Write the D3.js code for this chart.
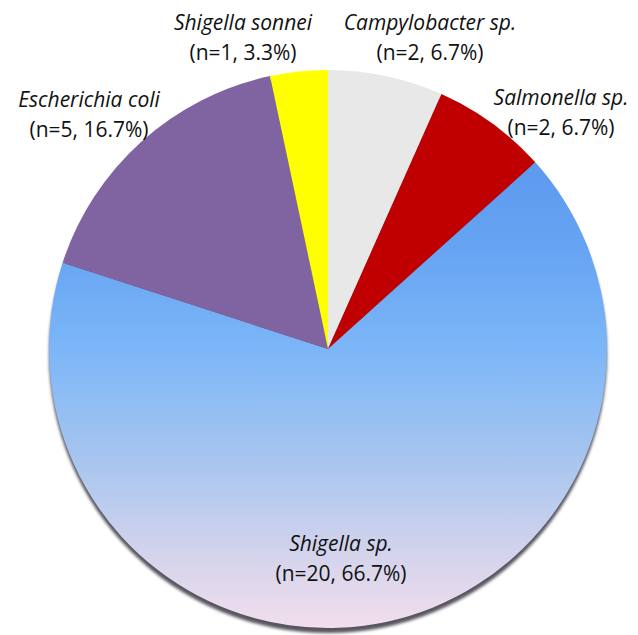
<!DOCTYPE html>
<html>
<head>
<meta charset="utf-8">
<script src="https://cdn.jsdelivr.net/npm/d3@7"></script>
<style>
  body { margin: 0; background: #fff; }
  text { font-family: "Open Sans", sans-serif; fill: #111; }
</style>
</head>
<body>
<script>

var w = 638, h = 635;

// chart data (clockwise from 12 o'clock)
var species = ["Campylobacter sp.", "Salmonella sp.", "Shigella sp.", "Escherichia coli", "Shigella sonnei"];
var counts = [2, 2, 20, 5, 1];
var percents = ["6.7%", "6.7%", "66.7%", "16.7%", "3.3%"];
var colors = ["#e8e8e8", "#c00000", "url(#shigellaGrad)", "#8064a2", "#ffff00"];

var cx = 328, cy = 349, radius = 279;

var svg = d3.select("body")
			.append("svg")
			.attr("width", w)
			.attr("height", h);

var defs = svg.append("defs");

// gradient is in the pie group's local coordinates
var grad = defs.append("linearGradient")
			.attr("id", "shigellaGrad")
			.attr("gradientUnits", "userSpaceOnUse")
			.attr("x1", 0).attr("y1", -radius)
			.attr("x2", 0).attr("y2", radius);

[[0, "#5590ec"], [0.3, "#64a2f2"], [0.5, "#7cb6f8"], [0.68, "#a2c4f0"], [0.85, "#cfd2ec"], [1, "#f2deec"]]
	.forEach(s => {
		grad.append("stop").attr("offset", s[0]).attr("stop-color", s[1]);
	});

defs.append("filter")
	.attr("id", "blur")
	.append("feGaussianBlur")
	.attr("stdDeviation", 1.5);

var pie = d3.pie().sort(null).value(d => d);
var arc = d3.arc().innerRadius(0).outerRadius(radius);

var g = svg.append("g")
			.attr("transform", `translate(${cx}, ${cy})`);

// drop shadow under the pie
g.append("circle")
	.attr("cx", 0)
	.attr("cy", 5)
	.attr("r", radius)
	.attr("fill", "#595460")
	.attr("filter", "url(#blur)");

g.selectAll("path")
	.data(pie(counts))
	.enter()
	.append("path")
	.attr("d", arc)
	.attr("fill", (d, i) => colors[i]);

// label positions (centre x, baseline y of first line)
var labelX = [430, 561, 341, 89, 243];
var labelY = [30, 105, 551, 107, 30];

var labels = svg.selectAll("g.label")
	.data(species)
	.enter()
	.append("g")
	.attr("class", "label")
	.attr("transform", (d, i) => `translate(${labelX[i]}, ${labelY[i]})`);

labels.append("text")
	.attr("text-anchor", "middle")
	.attr("font-size", "21px")
	.attr("font-style", "italic")
	.text(d => d);

labels.append("text")
	.attr("text-anchor", "middle")
	.attr("y", 30)
	.attr("font-size", "21px")
	.text((d, i) => `(n=${counts[i]}, ${percents[i]})`);

</script>
</body>
</html>
